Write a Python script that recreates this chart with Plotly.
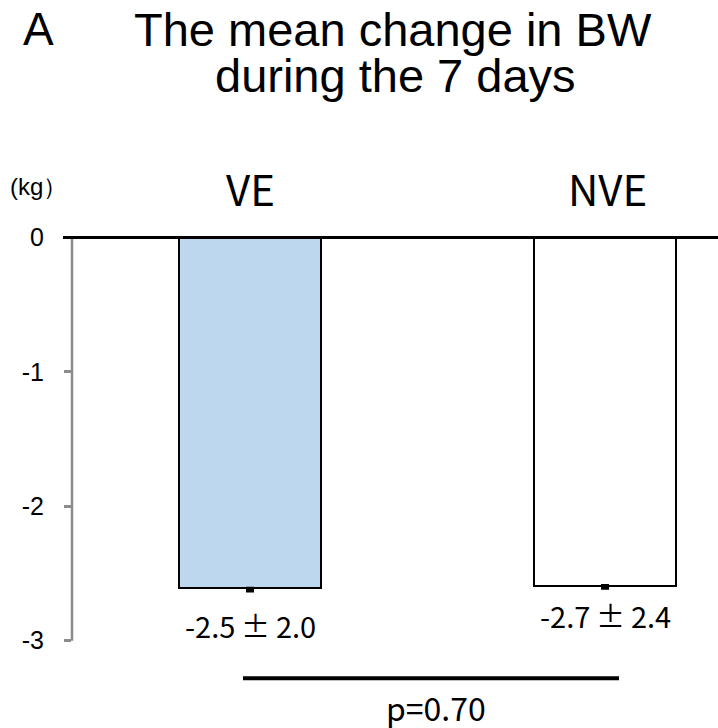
import plotly.graph_objects as go

# ---- data ----
groups = ["VE", "NVE"]
mean_change = [-2.61, -2.59]          # bar heights as drawn (kg)
value_labels = ["-2.5\u2009±\u20092.0", "-2.7\u2009±\u20092.4"]
label_y = [-2.885, -2.81]
tick_vals = [0, -1, -2, -3]
tick_text = ["0", "-1", "-2", "-3"]
p_text = "p=0.70"

W, H = 718, 728
L, R, T, B = 72, 0, 177.4, 0
Y_RANGE = [-3.65, 0.45]
X_RANGE = [-0.5014, 1.3183]
plot_h = H - T - B
plot_w = W - L - R

def ypaper(px):
    return (H - B - px) / plot_h

def xpaper(px):
    return (px - L) / plot_w

xs = list(range(len(groups)))

fig = go.Figure()
fig.add_trace(go.Bar(
    x=xs, y=mean_change, width=0.4,
    marker=dict(color=["#BDD7EE", "#FFFFFF"], line=dict(color="black", width=2)),
    error_y=dict(type="data", symmetric=False, array=[0, 0], arrayminus=[0.02, 0.02],
                 thickness=3, width=4, color="black"),
    showlegend=False, hoverinfo="skip",
))

cjk = "Noto Sans CJK JP"
arial = "Liberation Sans, Arial"

def ann(**kw):
    kw.setdefault("showarrow", False)
    kw.setdefault("xanchor", "center")
    kw.setdefault("yanchor", "middle")
    return kw

annotations = []
for x, g in zip(xs, groups):
    annotations.append(ann(x=x + (0.008 if x == 1 else 0), y=0.37, xref="x", yref="y", text=g,
                           font=dict(family=cjk, size=42, color="black")))
for x, t, ly in zip(xs, value_labels, label_y):
    annotations.append(ann(x=x, y=ly, xref="x", yref="y", text=t,
                           font=dict(family=cjk, size=29, color="black")))
annotations.append(ann(x=0.524, y=-3.49, xref="x", yref="y", text=p_text,
                       font=dict(family=cjk, size=32, color="black")))
annotations.append(ann(x=xpaper(393), y=ypaper(30), xref="paper", yref="paper",
                       text="The mean change in BW",
                       font=dict(family=arial, size=47, color="black")))
annotations.append(ann(x=xpaper(395), y=ypaper(76), xref="paper", yref="paper",
                       text="during the 7 days",
                       font=dict(family=arial, size=47, color="black")))
annotations.append(ann(x=xpaper(38), y=ypaper(30), xref="paper", yref="paper",
                       text="A",
                       font=dict(family=arial, size=46, color="black")))
annotations.append(ann(x=xpaper(38), y=ypaper(187), xref="paper", yref="paper",
                       text="(kg）",
                       font=dict(family=arial, size=24, color="black")))

shapes = [
    # gray y axis line from 0 to -3
    dict(type="line", xref="paper", yref="y", x0=0, x1=0, y0=0, y1=-3,
         line=dict(color="#8C8C8C", width=2.5)),
    # zero line
    dict(type="line", xref="paper", yref="y", x0=xpaper(63), x1=1, y0=0, y1=0,
         line=dict(color="black", width=3)),
    # comparison line
    dict(type="line", xref="x", yref="y", x0=-0.0197, x1=1.0394, y0=-3.28, y1=-3.28,
         line=dict(color="black", width=4)),
]

fig.update_layout(
    template="none",
    width=W, height=H,
    margin=dict(l=L, r=R, t=T, b=B, pad=0),
    paper_bgcolor="white", plot_bgcolor="white",
    xaxis=dict(range=X_RANGE, visible=False, fixedrange=True),
    yaxis=dict(range=Y_RANGE, tickvals=tick_vals, ticktext=tick_text,
               ticks="outside", ticklen=7, tickwidth=2.5, tickcolor="#8C8C8C",
               showgrid=False, zeroline=False, showline=False,
               ticklabelstandoff=15,
               tickfont=dict(family=arial, size=25, color="black"),
               automargin=False, fixedrange=True),
    annotations=annotations,
    shapes=shapes,
    bargap=0,
)

fig.write_html("out.html", config={"displayModeBar": False},
               post_script="document.body.style.margin='0';document.body.style.overflow='hidden';")
